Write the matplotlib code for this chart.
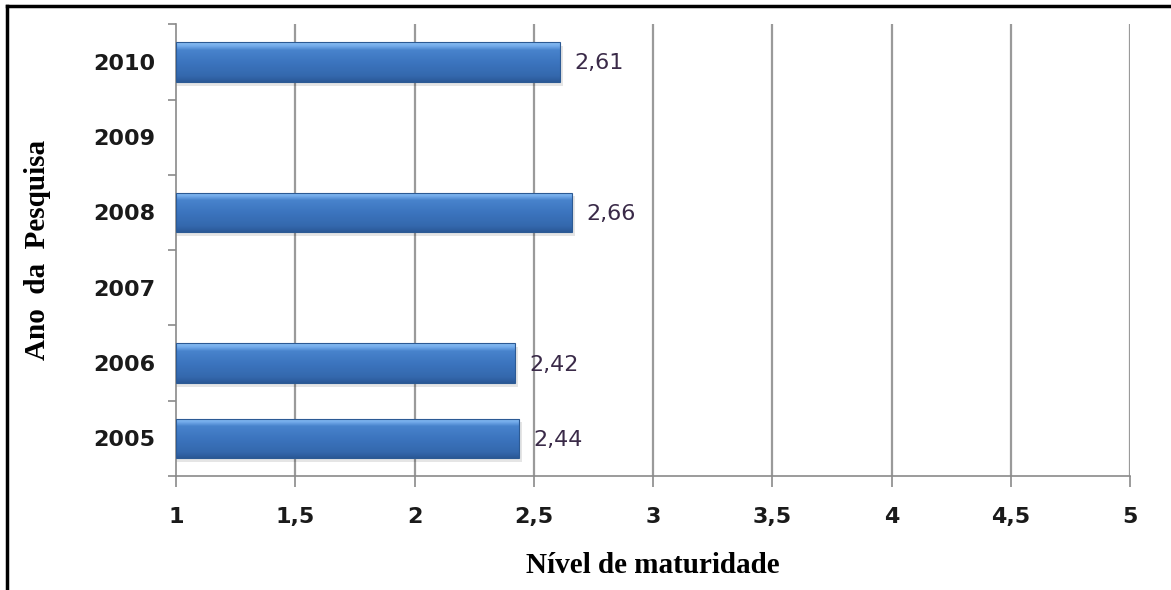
import numpy as np
import matplotlib.pyplot as plt
from matplotlib.patches import Rectangle
from matplotlib.lines import Line2D
from matplotlib.colors import LinearSegmentedColormap

anos = ["2005", "2006", "2007", "2008", "2009", "2010"]
nivel = [2.44, 2.42, None, 2.66, None, 2.61]
rotulos = ["2,44", "2,42", "", "2,66", "", "2,61"]
xticks = [1, 1.5, 2, 2.5, 3, 3.5, 4, 4.5, 5]
xticklabels = ["1", "1,5", "2", "2,5", "3", "3,5", "4", "4,5", "5"]

fig = plt.figure(figsize=(11.71, 5.90), dpi=100)
ax = fig.add_axes([0.1503, 0.193, 0.8147, 0.766])

# moldura preta (cortada a direita e embaixo)
fig.add_artist(Line2D([7 / 1171, 1], [1 - 6 / 590, 1 - 6 / 590], color="black", lw=2.5, transform=fig.transFigure))
fig.add_artist(Line2D([7 / 1171, 7 / 1171], [0, 1 - 6 / 590], color="black", lw=2.5, transform=fig.transFigure))

for xv in xticks[1:]:
    ax.axvline(xv, color="#9a9a9a", lw=1.6, zorder=0)

# gradiente das barras (escuro embaixo, claro em cima)
grad = np.linspace(0, 1, 256).reshape(-1, 1)
cmap = LinearSegmentedColormap.from_list(
    "barra",
    [(0, "#2a5896"), (0.15, "#3468ad"), (0.5, "#3c75bf"), (0.8, "#4883cc"), (0.9, "#72aaea"), (1, "#8cc0f2")],
)
h = 0.53
for i, v in enumerate(nivel):
    if v is None:
        continue
    sombra = Rectangle((1, i - h / 2 - 0.05), v - 1 + 0.012, h, facecolor="#000000", alpha=0.10, edgecolor="none", zorder=1)
    ax.add_patch(sombra)
    r = Rectangle((1, i - h / 2), v - 1, h, facecolor="none", edgecolor="#2c5a94", lw=0.8, zorder=3)
    ax.add_patch(r)
    im = ax.imshow(grad, extent=[1, v, i - h / 2, i + h / 2], origin="lower", cmap=cmap, aspect="auto", zorder=2)
    im.set_clip_path(r)
    ax.text(v + 0.06, i - 0.02, rotulos[i], va="center", ha="left", fontsize=16, color="#3a2a48", zorder=4)

ax.set_xlim(1, 5)
ax.set_ylim(-0.5, 5.5)

ax.set_yticks(range(len(anos)))
ax.set_yticklabels(anos, fontsize=16, fontweight="bold", color="#1a1a1a")
ax.set_yticks(np.arange(-0.5, 6, 1), minor=True)
ax.tick_params(axis="y", which="major", length=0, pad=15)
ax.tick_params(axis="y", which="minor", length=6, color="#8a8a8a", width=1.2)

ax.set_xticks(xticks)
ax.set_xticklabels(xticklabels, fontsize=16, fontweight="bold", color="#1a1a1a")
ax.tick_params(axis="x", length=8, color="#8a8a8a", width=1.2, pad=14)

for s in ["top", "right"]:
    ax.spines[s].set_visible(False)
for s in ["left", "bottom"]:
    ax.spines[s].set_color("#8a8a8a")
    ax.spines[s].set_linewidth(1.2)

ax.set_xlabel("Nível de maturidade", fontsize=21, fontweight="bold", family="Liberation Serif", labelpad=18)
ax.set_ylabel("Ano  da  Pesquisa", fontsize=21, fontweight="bold", family="Liberation Serif", labelpad=30)

fig.savefig("out.png", dpi=100)
